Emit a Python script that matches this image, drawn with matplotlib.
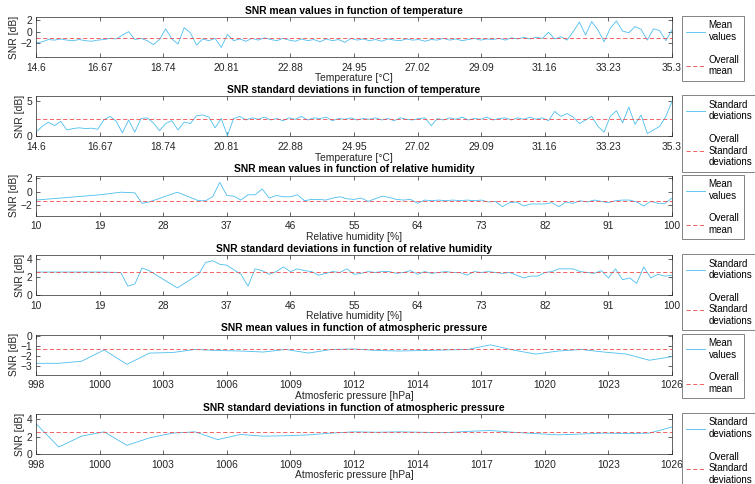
import numpy as np
import matplotlib
matplotlib.use("Agg")
import matplotlib.pyplot as plt

plt.rcParams['font.family'] = ['Liberation Sans', 'DejaVu Sans']

# ---- temperature ----
temp_x = np.linspace(14.6, 35.3, 104)
temp_mean = [
    -2.0, -1.8, -1.4, -1.5, -1.3, -1.5, -1.6, -1.4, -1.6, -1.7,
    -1.5, -1.4, -1.2, -1.3, -0.6, 0.0, -1.4, -1.2, -1.6, -2.3,
    -1.4, 0.5, -1.3, -2.2, 0.7, -0.2, -2.4, -1.3, -1.6, -1.2,
    -2.8, -0.5, -1.6, -1.3, -1.7, -1.2, -1.5, -1.1, -1.4, -1.6,
    -1.2, -1.5, -1.7, -1.3, -1.6, -1.4, -1.8, -1.3, -1.6, -1.4,
    -1.9, -1.2, -1.5, -1.3, -1.6, -1.4, -1.7, -1.3, -1.5, -1.6,
    -1.3, -1.5, -1.4, -1.7, -1.4, -1.5, -1.2, -1.5, -1.3, -1.6,
    -1.4, -1.2, -1.5, -1.3, -1.4, -1.2, -1.5, -1.1, -1.3, -1.0,
    -1.3, -1.0, -1.2, -0.1, -1.3, -0.9, -1.5, 0.0, 1.7, -0.6,
    1.8, 0.3, -1.8, 0.6, 1.9, 0.1, -0.2, 0.9, 0.4, -1.5,
    0.5, 0.2, -1.6, 0.3,
]
temp_std = [
    0.6, 1.4, 2.0, 1.5, 2.1, 0.9, 1.1, 1.2, 1.1, 1.15,
    1.0, 2.3, 2.8, 2.1, 0.5, 2.3, 0.6, 2.5, 2.6, 1.9,
    0.8, 1.8, 2.2, 0.9, 2.0, 1.8, 2.9, 3.0, 2.7, 1.2,
    2.5, 0.1, 2.5, 2.8, 2.3, 2.6, 2.4, 2.7, 2.3, 2.5,
    2.2, 2.6, 2.4, 2.8, 2.3, 2.6, 2.5, 2.7, 2.2, 2.5,
    2.4, 2.6, 2.3, 2.5, 2.4, 2.6, 2.3, 2.5, 2.2, 2.6,
    2.4, 2.3, 2.5, 2.6, 1.5, 2.5, 2.3, 2.6, 2.4, 2.7,
    2.3, 2.5, 2.4, 2.7, 2.3, 2.5, 2.6, 2.3, 2.6, 2.4,
    2.7, 2.4, 2.6, 2.2, 3.5, 2.8, 3.2, 2.7, 1.8, 2.3,
    2.8, 1.4, 0.6, 2.8, 3.6, 1.9, 4.1, 1.7, 3.0, 0.4,
    0.9, 1.4, 2.8, 4.9,
]
temp_overall_mean = -1.1
temp_overall_std = 2.4
temp_ticks = np.linspace(14.6, 35.3, 11)
temp_ticklabels = ['14.6', '16.67', '18.74', '20.81', '22.88', '24.95',
                   '27.02', '29.09', '31.16', '33.23', '35.3']

# ---- relative humidity ----
hum_x = [10, 19, 22, 23, 24, 25, 26, 30, 33, 34, 35, 36] + list(range(37, 101))
hum_mean = [
    -1.3, -0.5, -0.1, -0.15, -0.2, -1.8, -1.6, -0.1, -1.4, -1.4, -0.8, 1.4,
    -0.6, -0.7, -1.3, -0.5, -0.5, 0.4, -1.0, -0.6, -0.8, -0.8,
    -0.5, -1.4, -1.2, -1.2, -1.3, -1.0, -0.8, -1.1, -1.2, -1.0,
    -1.5, -1.1, -0.7, -0.9, -1.2, -1.3, -1.2, -1.8, -1.3, -1.4,
    -1.3, -1.4, -1.3, -1.4, -1.3, -1.4, -1.3, -1.6, -1.5, -2.3,
    -1.7, -1.6, -2.2, -1.9, -1.9, -1.9, -1.7, -2.3, -1.6, -1.8,
    -1.4, -1.6, -1.3, -1.5, -1.7, -1.4, -1.3, -1.3, -1.6, -2.2,
    -1.5, -1.8, -1.8, -1.0,
]
hum_std = [
    2.55, 2.55, 2.5, 1.0, 1.25, 3.0, 2.7, 0.8, 2.3, 3.6, 3.8, 3.4,
    3.3, 2.8, 2.3, 1.0, 2.9, 2.7, 2.3, 2.6, 3.1, 2.6,
    2.9, 2.7, 2.6, 2.2, 2.4, 2.6, 2.5, 2.9, 2.3, 2.4,
    2.6, 2.5, 2.6, 2.6, 2.4, 2.5, 2.7, 2.3, 2.6, 2.4,
    2.5, 2.6, 2.5, 2.5, 2.2, 2.6, 2.5, 2.6, 2.5, 2.4,
    2.5, 2.2, 1.9, 2.1, 2.1, 2.5, 2.6, 2.9, 2.9, 2.9,
    2.6, 2.5, 2.4, 2.7, 1.9, 2.9, 1.7, 1.9, 1.3, 3.1,
    1.9, 2.3, 2.1, 2.2,
]
hum_overall_mean = -1.5
hum_overall_std = 2.5
hum_ticks = np.linspace(10, 100, 11)
hum_ticklabels = ['10', '19', '28', '37', '46', '55', '64', '73', '82', '91', '100']

# ---- atmospheric pressure ----
pres_x = list(range(998, 1027))
pres_mean = [
    -2.7, -2.7, -2.5, -1.4, -2.8, -1.7, -1.65, -1.35, -1.45, -1.5,
    -1.6, -1.35, -1.7, -1.35, -1.3, -1.45, -1.5, -1.45, -1.4, -1.35,
    -0.9, -1.4, -1.8, -1.5, -1.35, -1.6, -1.8, -2.4, -2.05,
]
pres_std = [
    3.5, 0.8, 2.05, 2.55, 1.0, 1.85, 2.4, 2.55, 1.65, 2.25,
    2.05, 2.1, 2.2, 2.4, 2.55, 2.5, 2.55, 2.5, 2.45, 2.6,
    2.7, 2.5, 2.35, 2.2, 2.3, 2.4, 2.35, 2.4, 3.1,
]
pres_overall_mean = -1.35
pres_overall_std = 2.5
pres_ticks = np.linspace(998, 1026, 11)
pres_ticklabels = ['998', '1000', '1003', '1006', '1009', '1012',
                   '1014', '1017', '1020', '1023', '1026']

LINE_BLUE = '#4dbeee'
DASH_RED = '#f0484c'
AX_GRAY = '#262626'

W, H = 755, 484
fig = plt.figure(figsize=(W / 100, H / 100), dpi=100)

panels = [
    dict(x=temp_x, y=temp_mean, ref=temp_overall_mean, xlim=(14.6, 35.3),
         ticks=temp_ticks, labels=temp_ticklabels, ylim=(-4.5, 2.6), yticks=[-2, 0, 2],
         title='SNR mean values in function of temperature', xlabel='Temperature [°C]',
         leg=('Mean\nvalues', 'Overall\nmean')),
    dict(x=temp_x, y=temp_std, ref=temp_overall_std, xlim=(14.6, 35.3),
         ticks=temp_ticks, labels=temp_ticklabels, ylim=(0, 5.6), yticks=[0, 5],
         title='SNR standard deviations in function of temperature', xlabel='Temperature [°C]',
         leg=('Standard\ndeviations', 'Overall\nStandard\ndeviations')),
    dict(x=hum_x, y=hum_mean, ref=hum_overall_mean, xlim=(10, 100),
         ticks=hum_ticks, labels=hum_ticklabels, ylim=(-3.7, 2.4), yticks=[-2, 0, 2],
         title='SNR mean values in function of relative humidity', xlabel='Relative humidity [%]',
         leg=('Mean\nvalues', 'Overall\nmean')),
    dict(x=hum_x, y=hum_std, ref=hum_overall_std, xlim=(10, 100),
         ticks=hum_ticks, labels=hum_ticklabels, ylim=(0, 4.4), yticks=[0, 2, 4],
         title='SNR standard deviations in function of relative humidity', xlabel='Relative humidity [%]',
         leg=('Standard\ndeviations', 'Overall\nStandard\ndeviations')),
    dict(x=pres_x, y=pres_mean, ref=pres_overall_mean, xlim=(998, 1026),
         ticks=pres_ticks, labels=pres_ticklabels, ylim=(-3.8, 0.1), yticks=[-3, -2, -1, 0],
         title='SNR mean values in function of atmospheric pressure', xlabel='Atmosferic pressure [hPa]',
         leg=('Mean\nvalues', 'Overall\nmean')),
    dict(x=pres_x, y=pres_std, ref=pres_overall_std, xlim=(998, 1026),
         ticks=pres_ticks, labels=pres_ticklabels, ylim=(0, 4.6), yticks=[0, 2, 4],
         title='SNR standard deviations in function of atmospheric pressure', xlabel='Atmosferic pressure [hPa]',
         leg=('Standard\ndeviations', 'Overall\nStandard\ndeviations')),
]

left_px, right_px = 36, 672
height_px = 40
FS = 7.4
LEG_FS = 7.0

for i, p in enumerate(panels):
    top_px = 17 + 79.4 * i
    ax = fig.add_axes([left_px / W, 1 - (top_px + height_px) / H,
                       (right_px - left_px) / W, height_px / H])
    l1, = ax.plot(p['x'], p['y'], color=LINE_BLUE, lw=0.6)
    l2 = ax.axhline(p['ref'], color=DASH_RED, lw=0.6, ls=(0, (5, 3)))
    ax.set_xlim(*p['xlim'])
    ax.set_ylim(*p['ylim'])
    ax.set_xticks(p['ticks'])
    ax.set_xticklabels(p['labels'])
    ax.set_yticks(p['yticks'])
    ax.tick_params(direction='in', length=3, width=0.5, labelsize=FS,
                   colors=AX_GRAY, top=True, right=True)
    ax.tick_params(axis='x', pad=4)
    ax.tick_params(axis='y', pad=2.5)
    for s in ax.spines.values():
        s.set_linewidth(0.5)
        s.set_color(AX_GRAY)
    ax.set_title(p['title'], fontsize=FS, fontweight='bold', pad=2.5)
    ax.set_xlabel(p['xlabel'], fontsize=FS, color=AX_GRAY, labelpad=0.5)
    ax.set_ylabel('SNR [dB]', fontsize=FS, color=AX_GRAY, labelpad=1)
    leg = ax.legend([l1, l2], list(p['leg']), loc='upper left',
                    bbox_to_anchor=(682 / W, 1 - (top_px - 1) / H),
                    bbox_transform=fig.transFigure, borderaxespad=0,
                    fontsize=LEG_FS, frameon=True, fancybox=False,
                    handlelength=1.9, handletextpad=0.4, labelspacing=1.3,
                    borderpad=0.45)
    leg.get_frame().set_linewidth(0.5)
    leg.get_frame().set_edgecolor(AX_GRAY)

fig.savefig('out.png', dpi=100)
